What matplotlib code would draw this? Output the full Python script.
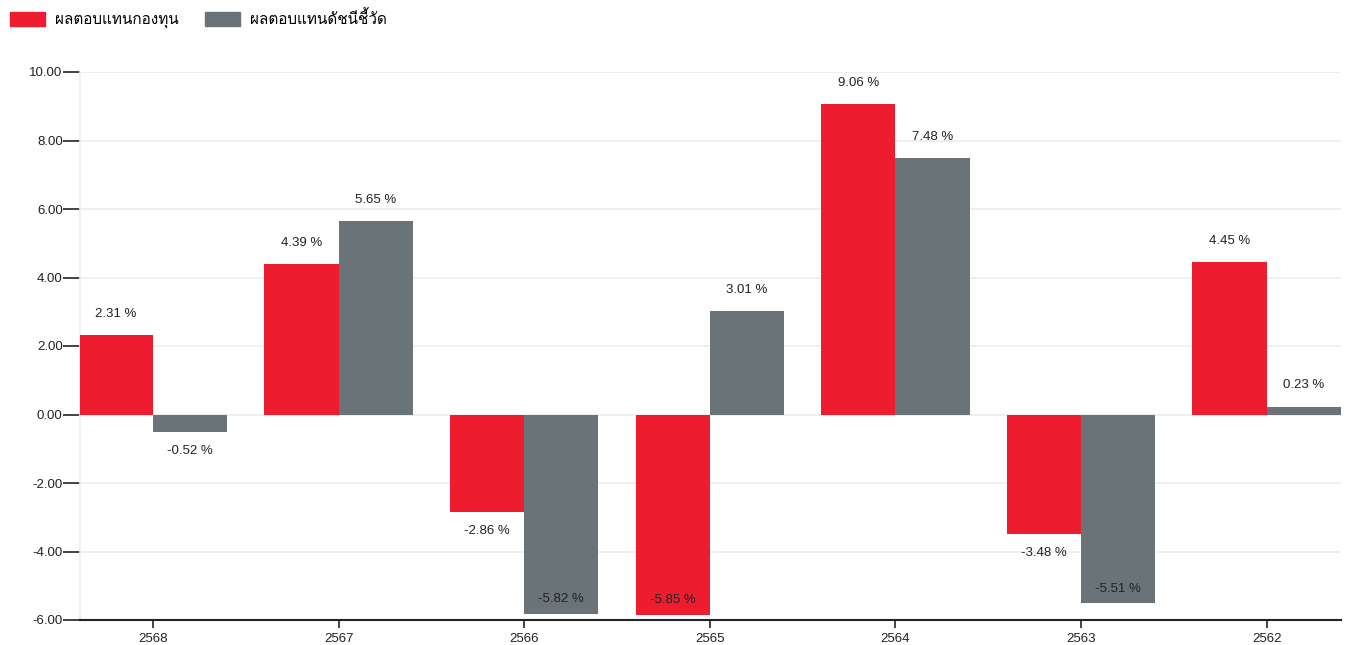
import matplotlib
matplotlib.use("Agg")
import matplotlib.pyplot as plt
from matplotlib import font_manager
from matplotlib.ft2font import FT2Font
from matplotlib.patches import Patch
import numpy as np

categories = ["2568", "2567", "2566", "2565", "2564", "2563", "2562"]
fund_returns = [2.31, 4.39, -2.86, -5.85, 9.06, -3.48, 4.45]
bench_returns = [-0.52, 5.65, -5.82, 3.01, 7.48, -5.51, 0.23]
series_names = ["ผลตอบแทนกองทุน", "ผลตอบแทนดัชนีชี้วัด"]
y_ticks = [-6, -4, -2, 0, 2, 4, 6, 8, 10]

RED = "#ED1C2E"
GRAY = "#6A7378"

# find a font with Thai glyphs
thai_family = None
for f in font_manager.fontManager.ttflist:
    try:
        cmap = FT2Font(f.fname).get_charmap()
        if ord("ผ") in cmap and ord("ด") in cmap:
            thai_family = f.name
            break
    except Exception:
        pass
base = "Liberation Sans"
fams = [base] + ([thai_family] if thai_family else []) + ["DejaVu Sans"]
plt.rcParams["font.family"] = fams

fig = plt.figure(figsize=(13.52, 6.45), dpi=100)
ax = fig.add_axes([80/1352, 1 - 620/645, (1341-80)/1352, (620-72)/645])

x = np.arange(len(categories))
w = 0.4
ax.bar(x - w/2, fund_returns, width=w, color=RED, zorder=3)
ax.bar(x + w/2, bench_returns, width=w, color=GRAY, zorder=3)

ax.set_xlim(-0.393, len(categories) - 1 + 0.4)
ax.set_ylim(-6, 10)
ax.set_yticks(y_ticks)
ax.set_yticklabels([f"{v:.2f}" for v in y_ticks], fontsize=9.5, color="#222222")
ax.set_xticks(x)
ax.set_xticklabels(categories, fontsize=9.5, color="#222222")
ax.grid(axis="y", color="#ececec", linewidth=1.2, zorder=0)
ax.tick_params(axis="y", length=12, width=1.2, color="#222222", pad=0.5)
ax.tick_params(axis="x", length=6, width=1.2, color="#222222", pad=3)
for s in ["top", "right"]:
    ax.spines[s].set_visible(False)
ax.spines["left"].set_color("#ececec")
ax.spines["left"].set_linewidth(1.2)
ax.spines["bottom"].set_color("#222222")
ax.spines["bottom"].set_linewidth(1.5)

def label(xpos, v):
    if v >= 0:
        y = v + 0.62
    elif v - 0.55 < -5.6:
        y = v + 0.42
    else:
        y = v - 0.55
    ax.text(xpos, y, f"{v:.2f} %", ha="center", va="center", fontsize=9.5,
            color="#222222", zorder=4)

for i in range(len(categories)):
    label(x[i] - w/2, fund_returns[i])
    label(x[i] + w/2, bench_returns[i])

handles = [Patch(color=RED), Patch(color=GRAY)]
fig.legend(handles, series_names, loc="upper left", bbox_to_anchor=(0.0, 1.0),
           ncol=2, frameon=False, fontsize=11, handlelength=2.3, handleheight=1.0,
           columnspacing=1.7, handletextpad=0.65, borderaxespad=0.25, borderpad=0.4,
           prop={"size": 11, "weight": "medium"})

fig.savefig("out.png", dpi=100)
